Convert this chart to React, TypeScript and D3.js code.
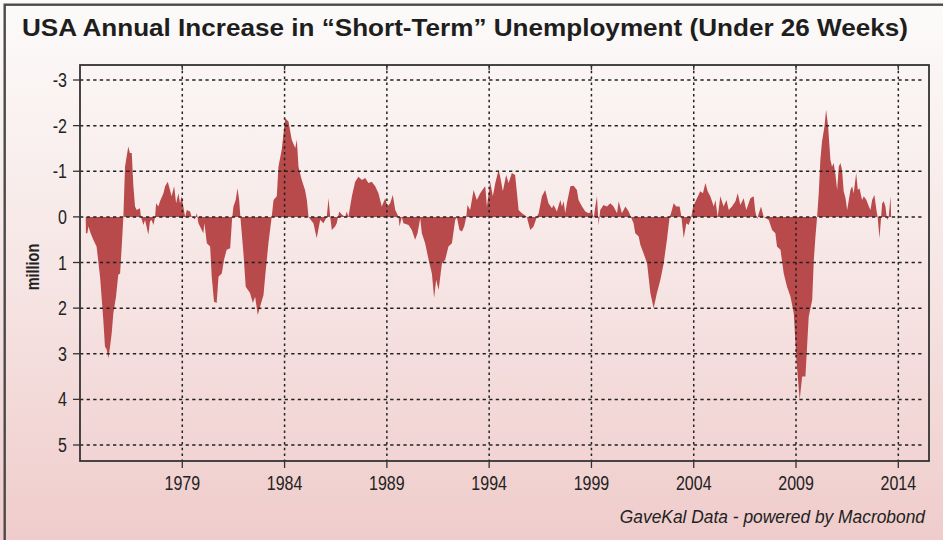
import React from "react";
import * as d3 from "d3";

// Annual change in short-term unemployment (million). Positive = increase (plotted downward).
const seg1974_1979: [number, number][] = [
  [1974.28, 0.0], [1974.29, 0.36], [1974.36, 0.36], [1974.41, 0.21], [1974.52, 0.36], [1974.65, 0.5],
  [1974.81, 0.65], [1974.98, 1.31], [1975.14, 2.26], [1975.22, 2.84], [1975.3, 2.9], [1975.39, 3.1],
  [1975.47, 2.84], [1975.55, 2.55], [1975.63, 2.11], [1975.76, 1.75], [1975.87, 1.27], [1975.96, 1.24],
  [1976.04, 0.65], [1976.12, 0.0], [1976.2, -1.1], [1976.36, -1.54], [1976.44, -1.4], [1976.53, -1.4],
  [1976.61, -0.67], [1976.69, -0.23], [1976.77, -0.15], [1976.93, -0.19], [1976.98, 0.0], [1977.1, 0.18],
  [1977.18, 0.07], [1977.34, 0.39], [1977.42, 0.1], [1977.5, 0.07], [1977.59, 0.18], [1977.67, 0.0],
  [1977.72, -0.3], [1977.83, -0.23], [1977.91, -0.34], [1978.08, -0.52], [1978.16, -0.67], [1978.29, -0.77],
  [1978.4, -0.59], [1978.48, -0.45], [1978.6, -0.67], [1978.7, -0.3], [1978.81, -0.52], [1978.89, -0.3],
  [1978.97, -0.45], [1979.05, -0.23], [1979.14, 0.0], [1979.22, -0.15], [1979.38, -0.12], [1979.46, 0.0],
  [1979.62, 0.05], [1979.71, -0.08], [1979.79, 0.14], [1979.95, 0.29],
];
const seg1980_1986: [number, number][] = [
  [1980.03, 0.36], [1980.08, 0.14], [1980.2, 0.58], [1980.36, 0.65], [1980.44, 1.31], [1980.55, 1.86],
  [1980.68, 1.89], [1980.77, 1.31], [1980.93, 1.24], [1981.04, 0.94], [1981.17, 0.72], [1981.34, 0.69],
  [1981.43, 0.07], [1981.5, -0.23], [1981.61, -0.37], [1981.7, -0.63], [1981.78, -0.37], [1981.84, 0.0],
  [1981.99, 0.8], [1982.1, 1.53], [1982.31, 1.67], [1982.45, 1.89], [1982.56, 1.75], [1982.69, 2.15],
  [1982.8, 1.97], [1982.97, 1.71], [1983.05, 1.31], [1983.21, 0.58], [1983.37, 0.0], [1983.46, -0.37],
  [1983.62, -0.45], [1983.7, -1.1], [1983.86, -1.47], [1984.03, -2.16], [1984.19, -2.09], [1984.35, -1.69],
  [1984.52, -1.51], [1984.6, -1.69], [1984.68, -1.1], [1984.84, -0.81], [1985.0, -0.59], [1985.09, -0.37],
  [1985.17, 0.0], [1985.41, 0.14], [1985.57, 0.47], [1985.74, 0.07], [1985.9, 0.14], [1986.06, 0.0],
  [1986.15, -0.41], [1986.23, 0.0], [1986.31, 0.29], [1986.47, 0.21], [1986.55, 0.14], [1986.67, -0.12],
  [1986.8, -0.05], [1986.96, 0.0],
];
const seg1987_1993: [number, number][] = [
  [1987.04, -0.12], [1987.12, 0.0], [1987.29, -0.45], [1987.45, -0.77], [1987.61, -0.88], [1987.78, -0.81],
  [1987.94, -0.85], [1988.1, -0.74], [1988.26, -0.77], [1988.43, -0.67], [1988.59, -0.52], [1988.75, -0.23],
  [1988.92, -0.41], [1989.03, -0.23], [1989.16, -0.3], [1989.29, -0.48], [1989.41, -0.15], [1989.49, -0.08],
  [1989.57, 0.0], [1989.62, 0.21], [1989.73, 0.0], [1989.81, 0.14], [1990.06, 0.18], [1990.22, 0.29],
  [1990.38, 0.5], [1990.5, 0.36], [1990.63, 0.03], [1990.71, 0.36], [1990.87, 0.58], [1991.04, 0.94],
  [1991.2, 1.24], [1991.31, 1.78], [1991.41, 1.38], [1991.53, 1.6], [1991.69, 1.02], [1991.85, 0.94],
  [1992.01, 0.65], [1992.18, 0.58], [1992.34, 0.07], [1992.42, 0.0], [1992.55, 0.29], [1992.67, 0.32],
  [1992.78, 0.21], [1992.88, 0.0], [1992.94, -0.26], [1993.07, -0.15], [1993.24, -0.59], [1993.4, -0.37],
  [1993.56, -0.52], [1993.73, -0.63], [1993.81, -0.67], [1993.89, -0.23],
];
const seg1994_2000: [number, number][] = [
  [1994.05, -0.77], [1994.18, -0.45], [1994.3, -0.74], [1994.46, -1.03], [1994.54, -0.88], [1994.67, -0.56],
  [1994.83, -0.92], [1994.95, -0.74], [1995.11, -0.96], [1995.27, -0.92], [1995.36, -0.52], [1995.44, -0.15],
  [1995.6, -0.08], [1995.76, -0.03], [1995.85, 0.0], [1995.88, 0.07], [1996.01, 0.29], [1996.17, 0.21],
  [1996.33, 0.0], [1996.42, -0.08], [1996.58, -0.45], [1996.74, -0.59], [1996.9, -0.3], [1997.07, -0.19],
  [1997.15, -0.26], [1997.31, -0.12], [1997.48, -0.37], [1997.56, -0.23], [1997.64, -0.34], [1997.72, -0.08],
  [1997.8, -0.3], [1997.97, -0.67], [1998.13, -0.68], [1998.29, -0.59], [1998.37, -0.37], [1998.54, -0.23],
  [1998.7, -0.12], [1998.86, -0.08], [1999.03, -0.12], [1999.11, 0.03], [1999.19, -0.23], [1999.27, -0.45],
  [1999.35, 0.18], [1999.43, -0.15], [1999.59, -0.26], [1999.76, -0.23], [1999.92, -0.3], [2000.08, -0.23],
  [2000.25, -0.08], [2000.33, -0.34], [2000.49, -0.08], [2000.66, -0.23], [2000.82, -0.12],
];
const seg2001_2007: [number, number][] = [
  [2000.93, 0.0], [2001.06, 0.14], [2001.14, 0.36], [2001.31, 0.43], [2001.39, 0.61], [2001.55, 0.8],
  [2001.72, 1.02], [2001.88, 1.67], [2002.04, 2.0], [2002.2, 1.67], [2002.37, 1.38], [2002.53, 1.02],
  [2002.69, 0.5], [2002.82, 0.0], [2002.89, -0.08], [2003.02, -0.3], [2003.15, -0.23], [2003.31, -0.23],
  [2003.4, 0.0], [2003.43, 0.14], [2003.51, 0.47], [2003.64, 0.14], [2003.75, 0.18], [2003.87, 0.03],
  [2003.97, -0.23], [2004.16, -0.41], [2004.32, -0.56], [2004.45, -0.52], [2004.57, -0.74], [2004.68, -0.56],
  [2004.81, -0.45], [2004.98, -0.23], [2005.06, -0.37], [2005.17, 0.0], [2005.3, -0.45], [2005.46, -0.23],
  [2005.6, -0.37], [2005.71, -0.15], [2005.87, -0.23], [2006.04, -0.34], [2006.15, -0.52], [2006.28, -0.26],
  [2006.44, -0.41], [2006.57, -0.15], [2006.77, -0.41], [2006.93, -0.45], [2007.01, -0.12], [2007.1, 0.05],
  [2007.18, -0.08], [2007.29, -0.23], [2007.42, 0.0],
];
const seg2008_2013: [number, number][] = [
  [2007.67, 0.07], [2007.83, 0.29], [2007.99, 0.36], [2008.07, 0.65], [2008.24, 0.72], [2008.4, 1.24],
  [2008.56, 1.53], [2008.73, 1.75], [2008.89, 2.11], [2009.02, 3.14], [2009.1, 3.57], [2009.18, 4.01],
  [2009.3, 3.5], [2009.46, 3.5], [2009.62, 2.19], [2009.79, 1.82], [2009.87, 0.94], [2009.95, 0.43],
  [2010.03, 0.0], [2010.11, -0.52], [2010.19, -1.25], [2010.27, -1.65], [2010.39, -1.98], [2010.47, -2.35],
  [2010.57, -1.98], [2010.68, -1.25], [2010.76, -1.1], [2010.84, -1.18], [2010.93, -0.92], [2011.01, -0.59],
  [2011.09, -1.1], [2011.17, -1.18], [2011.25, -1.03], [2011.33, -0.56], [2011.42, -0.41], [2011.5, -0.15],
  [2011.58, -0.37], [2011.66, -0.59], [2011.74, -0.67], [2011.82, -0.52], [2011.94, -0.96], [2012.02, -0.59],
  [2012.1, -0.63], [2012.23, -0.37], [2012.31, -0.45], [2012.44, -0.37], [2012.56, -0.23], [2012.64, -0.15],
  [2012.72, -0.37], [2012.83, -0.48], [2012.93, -0.15], [2012.99, 0.0], [2013.08, 0.47], [2013.16, 0.0],
  [2013.21, -0.3], [2013.29, -0.34], [2013.37, -0.23], [2013.45, 0.07], [2013.53, 0.0], [2013.62, -0.45],
  [2013.65, 0.0],
];

const yTicks = [-3, -2, -1, 0, 1, 2, 3, 4, 5];
const xTicks = [1979, 1984, 1989, 1994, 1999, 2004, 2009, 2014];

const TITLE = "USA Annual Increase in \u201CShort-Term\u201D Unemployment (Under 26 Weeks)";
const Y_LABEL = "million";
const SOURCE = "GaveKal Data - powered by Macrobond";

const W = 943;
const H = 540;
const plot = { left: 80, right: 929, top: 65, bottom: 461 };
const FONT = "'Liberation Sans', Arial, Helvetica, sans-serif";
const SQ = 0.8; // horizontal squeeze to imitate a condensed face

export default function App() {
  const data = [...seg1974_1979, ...seg1980_1986, ...seg1987_1993, ...seg1994_2000, ...seg2001_2007, ...seg2008_2013];
  const x = d3.scaleLinear().domain([1974.0, 2015.5]).range([plot.left, plot.right]);
  const y = d3.scaleLinear().domain([-3, 5]).range([80, 445]);
  const area = d3
    .area<[number, number]>()
    .x((d) => x(d[0]))
    .y0(y(0))
    .y1((d) => y(d[1]))
    .curve(d3.curveLinear);

  return (
    <svg width={W} height={H} style={{ position: "absolute", left: 0, top: 0, display: "block" }}>
      <defs>
        <linearGradient id="bg" x1="0" y1="0" x2="0" y2="1">
          <stop offset="0" stopColor="#fcfbfa" />
          <stop offset="0.5" stopColor="#f6e6e5" />
          <stop offset="1" stopColor="#efcccb" />
        </linearGradient>
      </defs>
      <rect x={0} y={0} width={W} height={H} fill="url(#bg)" />
      <rect x={4.7} y={4.7} width={W + 20} height={H + 20} fill="none" stroke="#4a4a4a" strokeWidth={2.4} />

      <g transform={`translate(22, 36) scale(0.84, 1)`}>
        <text
          x={0}
          y={0}
          fontFamily={FONT}
          fontWeight="bold"
          fontSize={23}
          fill="#1e1e1e"
          textLength={886 / 0.84}
          lengthAdjust="spacingAndGlyphs"
        >
          {TITLE}
        </text>
      </g>

      <path d={area(data) || ""} fill="#b94a4c" />

      {yTicks.map((t) => (
        <line
          key={"gy" + t}
          x1={plot.left}
          x2={plot.right - 6}
          y1={y(t)}
          y2={y(t)}
          stroke="#222"
          strokeWidth={1.5}
          strokeDasharray="3.3,3.3"
        />
      ))}
      {xTicks.map((t) => (
        <line
          key={"gx" + t}
          x1={x(t)}
          x2={x(t)}
          y1={plot.top}
          y2={plot.bottom}
          stroke="#222"
          strokeWidth={1.5}
          strokeDasharray="2.5,3.3"
        />
      ))}

      <rect
        x={plot.left}
        y={plot.top}
        width={plot.right - plot.left}
        height={plot.bottom - plot.top}
        fill="none"
        stroke="#333"
        strokeWidth={1.8}
      />

      {yTicks.map((t) => (
        <g key={"ty" + t}>
          <line x1={plot.left - 7} x2={plot.left} y1={y(t)} y2={y(t)} stroke="#333" strokeWidth={1.3} />
          <g transform={`translate(${plot.left - 13}, ${y(t)}) scale(${SQ}, 1)`}>
            <text x={0} y={0} dy="0.35em" textAnchor="end" fontFamily={FONT} fontSize={20} fill="#222">
              {String(t)}
            </text>
          </g>
        </g>
      ))}
      {xTicks.map((t) => (
        <g key={"tx" + t}>
          <line x1={x(t)} x2={x(t)} y1={plot.bottom} y2={plot.bottom + 7} stroke="#333" strokeWidth={1.3} />
          <line x1={x(t)} x2={x(t)} y1={plot.top} y2={plot.top + 5} stroke="#333" strokeWidth={1.3} />
          <g transform={`translate(${x(t)}, 490) scale(${SQ}, 1)`}>
            <text x={0} y={0} textAnchor="middle" fontFamily={FONT} fontSize={20} fill="#222">
              {String(t)}
            </text>
          </g>
        </g>
      ))}

      <g transform={`translate(39, 267) rotate(-90) scale(${SQ}, 1)`}>
        <text x={0} y={0} textAnchor="middle" fontFamily={FONT} fontWeight="bold" fontSize={18} fill="#222">
          {Y_LABEL}
        </text>
      </g>

      <g transform="translate(925, 523) scale(0.94, 1)">
        <text x={0} y={0} textAnchor="end" fontFamily={FONT} fontStyle="italic" fontSize={18.5} fill="#222">
          {SOURCE}
        </text>
      </g>
    </svg>
  );
}
